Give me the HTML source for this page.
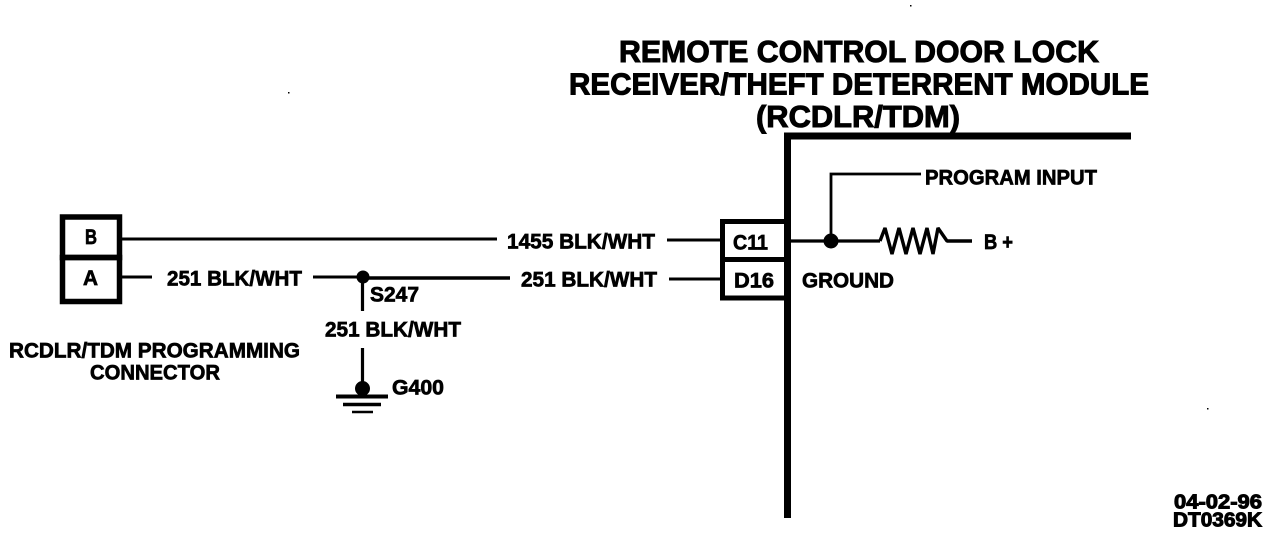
<!DOCTYPE html>
<html><head><meta charset="utf-8"><style>html,body{margin:0;padding:0;background:#fff}svg{display:block}text{font-family:"Liberation Sans",sans-serif;font-weight:bold;fill:#000}</style></head><body>
<svg width="1280" height="536" viewBox="0 0 1280 536" xmlns="http://www.w3.org/2000/svg">
<g text-anchor="middle" font-size="31" stroke="#000" stroke-width="1">
<text x="859" y="62" textLength="480" lengthAdjust="spacingAndGlyphs">REMOTE CONTROL DOOR LOCK</text>
<text x="859" y="94.5" textLength="580" lengthAdjust="spacingAndGlyphs">RECEIVER/THEFT DETERRENT MODULE</text>
<text x="858" y="127" textLength="204" lengthAdjust="spacingAndGlyphs">(RCDLR/TDM)</text>
</g>
<g fill="none" stroke="#000">
<path d="M787.5 518V136H1131" stroke-width="7"/>
<rect x="62.5" y="217" width="57" height="40.5" stroke-width="5.5"/>
<rect x="62.5" y="257.5" width="57" height="44" stroke-width="5.5"/>
<rect x="722.5" y="221.5" width="65" height="38" stroke-width="5"/>
<rect x="722.5" y="259.5" width="65" height="38.5" stroke-width="5"/>
<path d="M120 239H497M667 240H722M120 277H152M313 277H360M669 279H722" stroke-width="3"/>
<path d="M360 278H510" stroke-width="3.5"/>
<path d="M787 241H880M362.5 278V311M362.5 348V392" stroke-width="3.2"/>
<path d="M831 241V174H921" stroke-width="2.8"/>
<path d="M880 241L885 228L892 254L899 228L906 254L913 228L920 254L927 228L933 254L938 228L947 241H972" stroke-width="3.4" stroke-linejoin="bevel"/>
<path d="M336 396.500H388" stroke-width="4"/>
<path d="M343 404.500H381" stroke-width="3.500"/>
<path d="M352 412H373" stroke-width="2.500"/>
</g>
<circle cx="831" cy="241" r="7.5"/><circle cx="363" cy="277" r="6.500"/><circle cx="362.500" cy="388.500" r="7.500"/>
<rect x="910" y="5" width="1.500" height="1.500"/><rect x="288" y="92" width="1.500" height="1.500"/><rect x="1207" y="408" width="1.500" height="1.500"/>
<g font-size="21" stroke="#000" stroke-width=".7">
<text x="85" y="244" textLength="12" lengthAdjust="spacingAndGlyphs">B</text>
<text x="83" y="285" textLength="15" lengthAdjust="spacingAndGlyphs">A</text>
<text x="507" y="248.500" textLength="148" lengthAdjust="spacingAndGlyphs">1455 BLK/WHT</text>
<text x="167" y="285.500" textLength="135" lengthAdjust="spacingAndGlyphs">251 BLK/WHT</text>
<text x="521" y="286.500" textLength="136" lengthAdjust="spacingAndGlyphs">251 BLK/WHT</text>
<text x="325" y="336.500" textLength="136" lengthAdjust="spacingAndGlyphs">251 BLK/WHT</text>
<text x="733" y="249.500" textLength="35" lengthAdjust="spacingAndGlyphs">C11</text>
<text x="734" y="287.500" textLength="40" lengthAdjust="spacingAndGlyphs">D16</text>
<text x="802" y="287.500" textLength="92" lengthAdjust="spacingAndGlyphs">GROUND</text>
<text x="925" y="184.500" textLength="172" lengthAdjust="spacingAndGlyphs">PROGRAM INPUT</text>
<text x="984" y="249" textLength="29" lengthAdjust="spacingAndGlyphs">B +</text>
<text x="370" y="301.500" textLength="49" lengthAdjust="spacingAndGlyphs">S247</text>
<text x="392" y="394.500" textLength="52" lengthAdjust="spacingAndGlyphs">G400</text>
<text x="9" y="357.500" textLength="291" lengthAdjust="spacingAndGlyphs">RCDLR/TDM PROGRAMMING</text>
<text x="90" y="379.500" textLength="130" lengthAdjust="spacingAndGlyphs">CONNECTOR</text>
</g>
<g font-size="20" stroke="#000" stroke-width="1">
<text x="1174" y="508.500" textLength="88" lengthAdjust="spacingAndGlyphs">04-02-96</text>
<text x="1173" y="526.500" textLength="89" lengthAdjust="spacingAndGlyphs">DT0369K</text>
</g>
</svg>
</body></html>
